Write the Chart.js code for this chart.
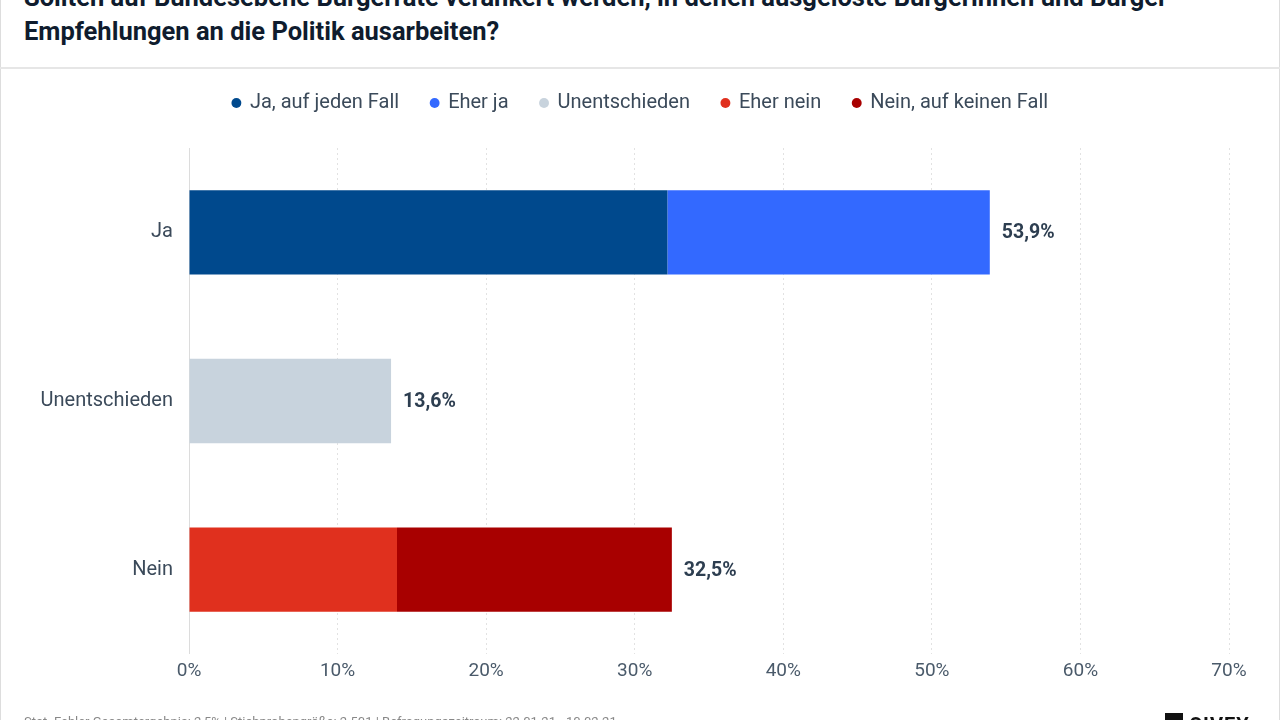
<!DOCTYPE html>
<html><head><meta charset="utf-8">
<script src="https://cdn.jsdelivr.net/npm/chart.js@4"></script>
<style>
html,body{margin:0;padding:0;background:#fff;width:1280px;height:720px;overflow:hidden;font-family:Roboto,"Noto Sans",sans-serif;}
#frame{position:absolute;left:0;top:0;width:1278px;height:720px;border-left:1px solid #ddd;border-right:1px solid #ddd;}
#title{position:absolute;left:24px;top:-20px;width:1240px;font-size:25.5px;font-weight:700;line-height:34px;color:#0f1c2e;white-space:nowrap;}
#rule{position:absolute;left:0;top:67px;width:1280px;height:2px;background:#e6e6e6;}
#wrap{position:absolute;left:0;top:0;width:1280px;height:720px;}
#foot{position:absolute;left:24px;top:714px;font-size:13px;color:#888;white-space:nowrap;}
#logo{position:absolute;left:1165px;top:713px;font-size:20px;font-weight:700;color:#111;letter-spacing:1px;}
#logo span{display:inline-block;width:18px;height:18px;background:#111;vertical-align:top;margin-right:6px;}
</style></head>
<body>
<div id="frame"></div>
<div id="title">Sollten auf Bundesebene Bürgerräte verankert werden, in denen ausgeloste Bürgerinnen und Bürger<br>Empfehlungen an die Politik ausarbeiten?</div>
<div id="rule"></div>
<div id="wrap"><canvas id="c" width="1280" height="720"></canvas></div>
<div id="foot">Stat. Fehler Gesamtergebnis: 2,5% | Stichprobengröße: 2.501 | Befragungszeitraum: 22.01.21 - 10.02.21</div>
<div id="logo"><span></span>CIVEY</div>
<script>
const categories = ["Ja", "Unentschieden", "Nein"];
const seriesNames = ["Ja, auf jeden Fall", "Eher ja", "Unentschieden", "Eher nein", "Nein, auf keinen Fall"];
const jaAufJedenFall = [32.2, null, null];
const eherJa = [21.7, null, null];
const unentschieden = [null, 13.6, null];
const eherNein = [null, null, 14.0];
const neinAufKeinenFall = [null, null, 18.5];
const totals = [53.9, 13.6, 32.5];
const xTicks = [0, 10, 20, 30, 40, 50, 60, 70];
const colors = ["#00498d", "#3369ff", "#c8d3dd", "#e0301e", "#a80000"];

const seriesData = [jaAufJedenFall, eherJa, unentschieden, eherNein, neinAufKeinenFall];
const datasets = seriesData.map((d, i) => ({
  label: seriesNames[i], data: d, backgroundColor: colors[i], borderWidth: 0,
  barPercentage: 0.5, categoryPercentage: 1.0
}));

const LEGEND_EXTRA = 25;
const LEGEND_SHIFT = 16;
const legendSpace = {
  id: 'legendSpace',
  afterInit(chart) {
    const lg = chart.legend;
    const origFit = lg.fit.bind(lg);
    lg.fit = function () { origFit(); this.height += LEGEND_EXTRA; };
    const origDraw = lg.draw.bind(lg);
    lg.draw = function (...a) {
      const ctx = chart.ctx;
      ctx.save(); ctx.translate(LEGEND_SHIFT, 0); origDraw(...a); ctx.restore();
    };
  }
};

const totalLabels = {
  id: 'totalLabels',
  afterDatasetsDraw(chart) {
    const ctx = chart.ctx;
    const xs = chart.scales.x, ys = chart.scales.y;
    ctx.save();
    ctx.font = 'bold 19.5px Roboto';
    ctx.fillStyle = '#2d3e50';
    ctx.textAlign = 'left';
    ctx.textBaseline = 'middle';
    totals.forEach((t, i) => {
      const x = xs.getPixelForValue(t) + 12;
      const y = ys.getPixelForValue(i);
      ctx.fillText(t.toFixed(1).replace('.', ',') + '%', x, y + 1);
    });
    ctx.restore();
  }
};

new Chart(document.getElementById('c'), {
  type: 'bar',
  data: { labels: categories, datasets },
  plugins: [legendSpace, totalLabels],
  options: {
    indexAxis: 'y', responsive: false, animation: false,
    layout: { padding: { top: 61, left: 20, right: 51, bottom: 0 } },
    plugins: {
      legend: {
        position: 'top',
        labels: {
          usePointStyle: true, pointStyle: 'circle', boxWidth: 7, boxHeight: 7,
          font: { size: 20, family: 'Roboto' }, color: '#3b4a5a', padding: 32
        }
      },
      tooltip: { enabled: false }
    },
    scales: {
      x: {
        stacked: true, min: 0, max: 70,
        afterBuildTicks: (s) => { s.ticks = xTicks.map(v => ({ value: v })); },
        ticks: { callback: v => v + '%', font: { size: 19, family: 'Roboto' }, color: '#4a5a6a', padding: 6 },
        grid: { color: (c) => c.tick && c.tick.value === 0 ? '#dcdcdc' : '#e2e2e2', lineWidth: 1, drawTicks: false },
        border: { display: false, dash: (c) => (c.tick && c.tick.value === 0) ? [] : [2, 3] },
        afterFit: (s) => { s.height = 66; }
      },
      y: {
        stacked: true,
        ticks: { font: { size: 20, family: 'Roboto' }, color: '#3b4a5a', padding: 8 },
        grid: { display: false },
        border: { display: false },
        afterFit: (s) => { s.width = 169; }
      }
    }
  }
});
</script>
</body></html>
